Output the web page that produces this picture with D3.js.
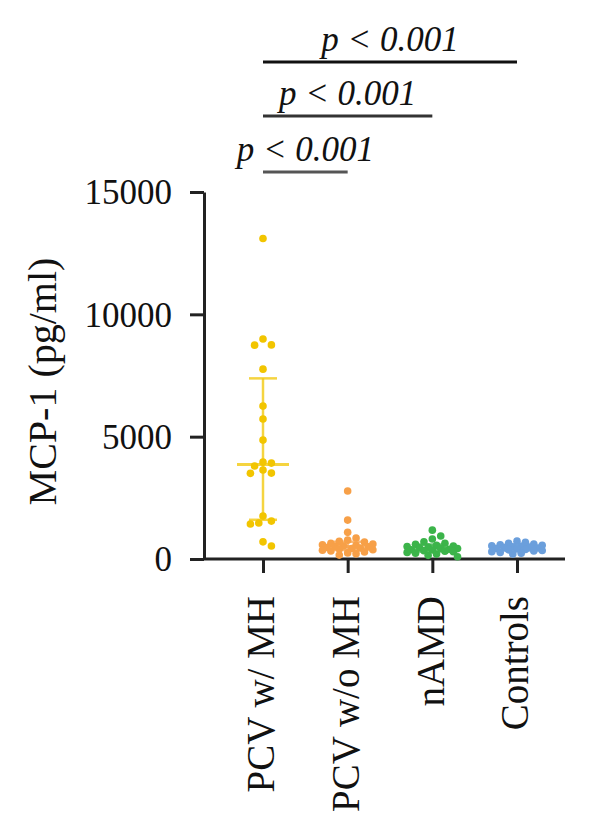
<!DOCTYPE html>
<html>
<head>
<meta charset="utf-8">
<script src="https://cdn.jsdelivr.net/npm/d3@7"></script>
<style>
  body { margin: 0; background: #fff; }
  text { font-family: "Liberation Serif", "Times New Roman", serif; fill: #111; }
</style>
</head>
<body>
<svg id="chart"></svg>
<script>
const groups = ["PCV w/ MH", "PCV w/o MH", "nAMD", "Controls"];
const colors = ["#f2c500", "#f7a048", "#3cb44a", "#6b9fdc"];

// MCP-1 values (pg/ml)
const pcvMH = [13100, 8990, 8750, 8740, 7760, 6250, 5720, 4860, 3960, 3920, 3800, 3640, 3510, 3500, 1760, 1550, 1470, 1430, 700, 530];
const pcvNoMH = [2780, 1590, 1090, 860, 770, 720, 690, 640, 610, 585, 560, 530, 510, 495, 470, 450, 430, 405, 380, 355, 330, 290, 250, 210, 160];
const namd = [1180, 940, 820, 700, 645, 600, 565, 530, 510, 485, 460, 440, 425, 400, 380, 365, 340, 320, 300, 270, 240, 200, 150, 90];
const controls = [730, 680, 645, 610, 585, 560, 540, 520, 500, 485, 470, 450, 430, 410, 390, 375, 350, 330, 300, 270, 240, 200];
const series = [pcvMH, pcvNoMH, namd, controls];

const yTicks = [0, 5000, 10000, 15000];
const comparisons = [
  { a: "PCV w/ MH", b: "PCV w/o MH", label: "p < 0.001" },
  { a: "PCV w/ MH", b: "nAMD", label: "p < 0.001" },
  { a: "PCV w/ MH", b: "Controls", label: "p < 0.001" }
];

const svg = d3.select("#chart").attr("width", 600).attr("height", 838);

const y = d3.scaleLinear().domain([0, 15000]).range([559, 192]);
const x = d3.scalePoint().domain(groups).range([263, 517]);

// y axis
const yAxis = svg.append("g")
  .attr("transform", "translate(204,0)")
  .call(d3.axisLeft(y).tickValues(yTicks).tickFormat(d3.format("d"))
    .tickSize(14).tickSizeOuter(0).tickPadding(18));
yAxis.selectAll("path, line").attr("stroke", "#222").attr("stroke-width", 3);
yAxis.selectAll("text").style("font-size", "35px").attr("dy", "0.34em")
  .style("font-family", "Liberation Serif").attr("fill", "#111");

// x axis
const xAxis = svg.append("g")
  .attr("transform", "translate(0,559)")
  .call(d3.axisBottom(x).tickSize(14).tickSizeOuter(0));
xAxis.select(".domain").attr("d", "M204,0H565");
xAxis.selectAll("path, line").attr("stroke", "#222").attr("stroke-width", 3);
xAxis.selectAll("text")
  .style("font-size", "39px")
  .style("font-family", "Liberation Serif")
  .attr("fill", "#111")
  .attr("text-anchor", "end")
  .attr("transform", "rotate(-90)")
  .attr("x", -37)
  .attr("y", 0)
  .attr("dy", "0.28em");

// y axis title
svg.append("text")
  .attr("transform", `translate(56,${(y(0) + y(15000)) / 2 + 6}) rotate(-90)`)
  .attr("text-anchor", "middle")
  .style("font-size", "40px")
  .text("MCP-1 (pg/ml)");

// GraphPad style quartile (n+1)p
function quant(vals, p) {
  const s = vals.slice().sort((a, b) => a - b);
  const pos = (s.length + 1) * p - 1;
  const lo = Math.floor(pos), hi = Math.ceil(pos);
  return s[lo] + (s[hi] - s[lo]) * (pos - lo);
}

// beeswarm dodge, kept within +-maxW; overlaps allowed once the column is full
function swarm(vals, step, minD, maxW) {
  const placed = [];
  vals.slice().sort((a, b) => b - a).forEach(v => {
    const py = y(v);
    const cands = [0];
    for (let k = 1; k * step <= maxW; k++) cands.push(k * step, -k * step);
    const gap = c => d3.min(placed, q => Math.hypot(q.dx - c, q.y - py)) ?? Infinity;
    let pick = cands.find(c => gap(c) >= minD);
    if (pick === undefined) pick = cands.reduce((b, c) => (gap(c) > gap(b) ? c : b), 0);
    placed.push({ v, y: py, dx: pick });
  });
  return placed;
}

series.forEach((vals, i) => {
  const cx = x(groups[i]);
  const col = colors[i];
  const med = quant(vals, 0.5), q1 = quant(vals, 0.25), q3 = quant(vals, 0.75);
  const eb = svg.append("g").attr("stroke", col).attr("stroke-opacity", 0.75).attr("stroke-width", 2.5);
  eb.append("line").attr("x1", cx).attr("x2", cx).attr("y1", y(q1)).attr("y2", y(q3));
  eb.append("line").attr("x1", cx - 14).attr("x2", cx + 14).attr("y1", y(q1)).attr("y2", y(q1));
  eb.append("line").attr("x1", cx - 14).attr("x2", cx + 14).attr("y1", y(q3)).attr("y2", y(q3));
  eb.append("line").attr("x1", cx - 26).attr("x2", cx + 26).attr("y1", y(med)).attr("y2", y(med)).attr("stroke-width", 3);

  svg.append("g").selectAll("circle")
    .data(swarm(vals, 4.2, 7.5, 27))
    .enter().append("circle")
    .attr("cx", d => cx + d.dx)
    .attr("cy", d => d.y)
    .attr("r", 3.8)
    .attr("fill", col);
});

// significance brackets
const levelY = [172, 116, 62];
const lineCols = ["#555", "#333", "#111"];
comparisons.forEach((c, i) => {
  const x1 = x(c.a), x2 = x(c.b);
  svg.append("line")
    .attr("x1", x1).attr("x2", x2)
    .attr("y1", levelY[i]).attr("y2", levelY[i])
    .attr("stroke", lineCols[i]).attr("stroke-width", 3);
  svg.append("text")
    .attr("x", (x1 + x2) / 2)
    .attr("y", levelY[i] - 11)
    .attr("text-anchor", "middle")
    .style("font-size", "35px")
    .style("font-style", "italic")
    .text(c.label);
});
</script>
</body>
</html>
